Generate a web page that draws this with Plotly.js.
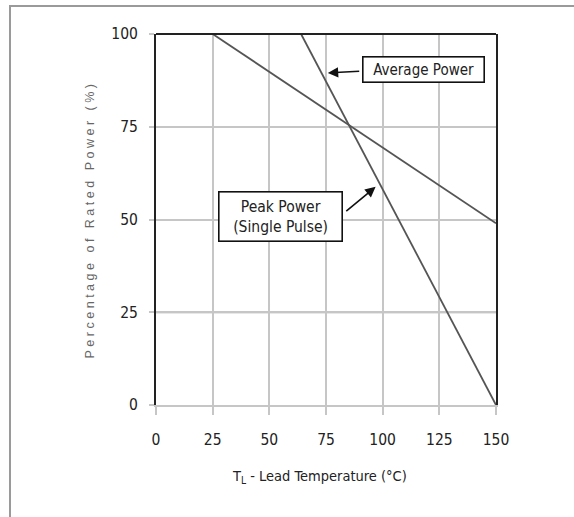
<!DOCTYPE html>
<html>
<head>
<meta charset="utf-8">
<script src="https://cdn.plot.ly/plotly-3.0.1.min.js"></script>
<style>
  html, body { margin: 0; padding: 0; background: #fff; }
  #wrap { position: relative; width: 574px; height: 517px; }
  #chart { position: absolute; left: 0; top: 0; width: 574px; height: 517px; }
  #frame { position: absolute; left: 9px; top: 5px; width: 580px; height: 510px;
           border-left: 2px solid #9a9a9a; border-top: 2px solid #9a9a9a; border-bottom: 1px solid #e6e6e6;
           pointer-events: none; }
  .ytitle { letter-spacing: 3.5px; }
</style>
</head>
<body>
<div id="wrap">
  <div id="chart"></div>
  <div id="frame"></div>
</div>
<script>
// ---- data ----
const xTicks = [0, 25, 50, 75, 100, 125, 150];
const yTicks = [0, 25, 50, 75, 100];
const shallowX = [25, 150];
const shallowY = [100, 49];
const steepX = [64, 150];
const steepY = [100, 0];
const emphasizedGrid = 25;

// annotation anchors (data units)
const avgLabel = { text: 'Average Power', x: 118, y: 90.3 };
const avgArrow = { tipX: 75.8, tipY: 89.5, tailX: 91.2, tailY: 90.0 };
const peakLabel = { text: 'Peak Power<br>(Single Pulse)', x: 54.9, y: 50.7 };
const peakArrow = { tipX: 96.9, tipY: 58.8, tailX: 82.4, tailY: 51.5 };

const condensed = '"Liberation Sans Narrow", "Arial Narrow", "DejaVu Sans Condensed", sans-serif';
const lineColor = '#555555';
const gridColor = '#c6c6c6';

const traces = [
  { x: shallowX, y: shallowY, mode: 'lines', line: { color: lineColor, width: 1.8 }, hoverinfo: 'skip' },
  { x: steepX, y: steepY, mode: 'lines', line: { color: lineColor, width: 1.8 }, hoverinfo: 'skip' }
];

function arrow(a) {
  return { x: a.tipX, y: a.tipY, ax: a.tailX, ay: a.tailY, xref: 'x', yref: 'y', axref: 'x', ayref: 'y',
           text: ' ', showarrow: true, arrowhead: 2, arrowsize: 1.3, arrowwidth: 1.6, arrowcolor: '#111' };
}
function box(l, w, h, fs) {
  return { x: l.x, y: l.y, xref: 'x', yref: 'y', text: l.text, showarrow: false,
           font: { family: condensed, size: fs, color: '#222' },
           bgcolor: '#fff', bordercolor: '#111', borderwidth: 1.6, borderpad: 3,
           width: w, height: h, align: 'center', valign: 'middle' };
}

const layout = {
  width: 574, height: 517,
  margin: { l: 156, r: 78, t: 34, b: 112 },
  paper_bgcolor: '#fff', plot_bgcolor: '#fff',
  showlegend: false,
  font: { family: condensed, size: 15, color: '#222' },
  xaxis: {
    range: [0, 150], tickvals: xTicks, ticktext: xTicks.map(String),
    showgrid: true, gridcolor: gridColor, gridwidth: 2,
    ticks: 'outside', ticklen: 8, tickcolor: gridColor, tickwidth: 2,
    ticklabelstandoff: 11,
    showline: true, linecolor: gridColor, linewidth: 2,
    zeroline: false, fixedrange: true,
    tickfont: { family: condensed, size: 15.5, color: '#222' }
  },
  yaxis: {
    range: [0, 100], tickvals: yTicks, ticktext: yTicks.map(String),
    showgrid: true, gridcolor: gridColor, gridwidth: 2,
    ticks: 'outside', ticklen: 5, tickcolor: gridColor, tickwidth: 2,
    ticklabelstandoff: 8,
    showline: true, mirror: true, linecolor: '#222', linewidth: 2,
    zeroline: false, fixedrange: true,
    tickfont: { family: condensed, size: 15.5, color: '#222' },
    title: { text: 'Percentage of Rated Power (%)', standoff: 14,
             font: { family: '"Liberation Sans", Arial, sans-serif', size: 12.5, color: '#666' } }
  },
  shapes: [
    { type: 'line', xref: 'paper', yref: 'y', x0: 0, x1: 1, y0: emphasizedGrid, y1: emphasizedGrid,
      line: { color: '#a0a0a0', width: 2.2 }, layer: 'below' },
    { type: 'line', xref: 'paper', yref: 'paper', x0: 0, x1: 1, y0: 1, y1: 1,
      line: { color: '#222', width: 2 } }
  ],
  annotations: [
    arrow(avgArrow),
    box(avgLabel, 114, 18, 15),
    arrow(peakArrow),
    box(peakLabel, 116, 42, 15.5),
    { xref: 'paper', yref: 'paper', x: 0.482, y: -0.194, xanchor: 'center', yanchor: 'middle',
      text: 'T<sub>L</sub> - Lead Temperature (°C)', showarrow: false,
      font: { family: condensed, size: 14.5, color: '#222' } }
  ]
};

Plotly.newPlot('chart', traces, layout, { staticPlot: true, displayModeBar: false });
</script>
</body>
</html>
